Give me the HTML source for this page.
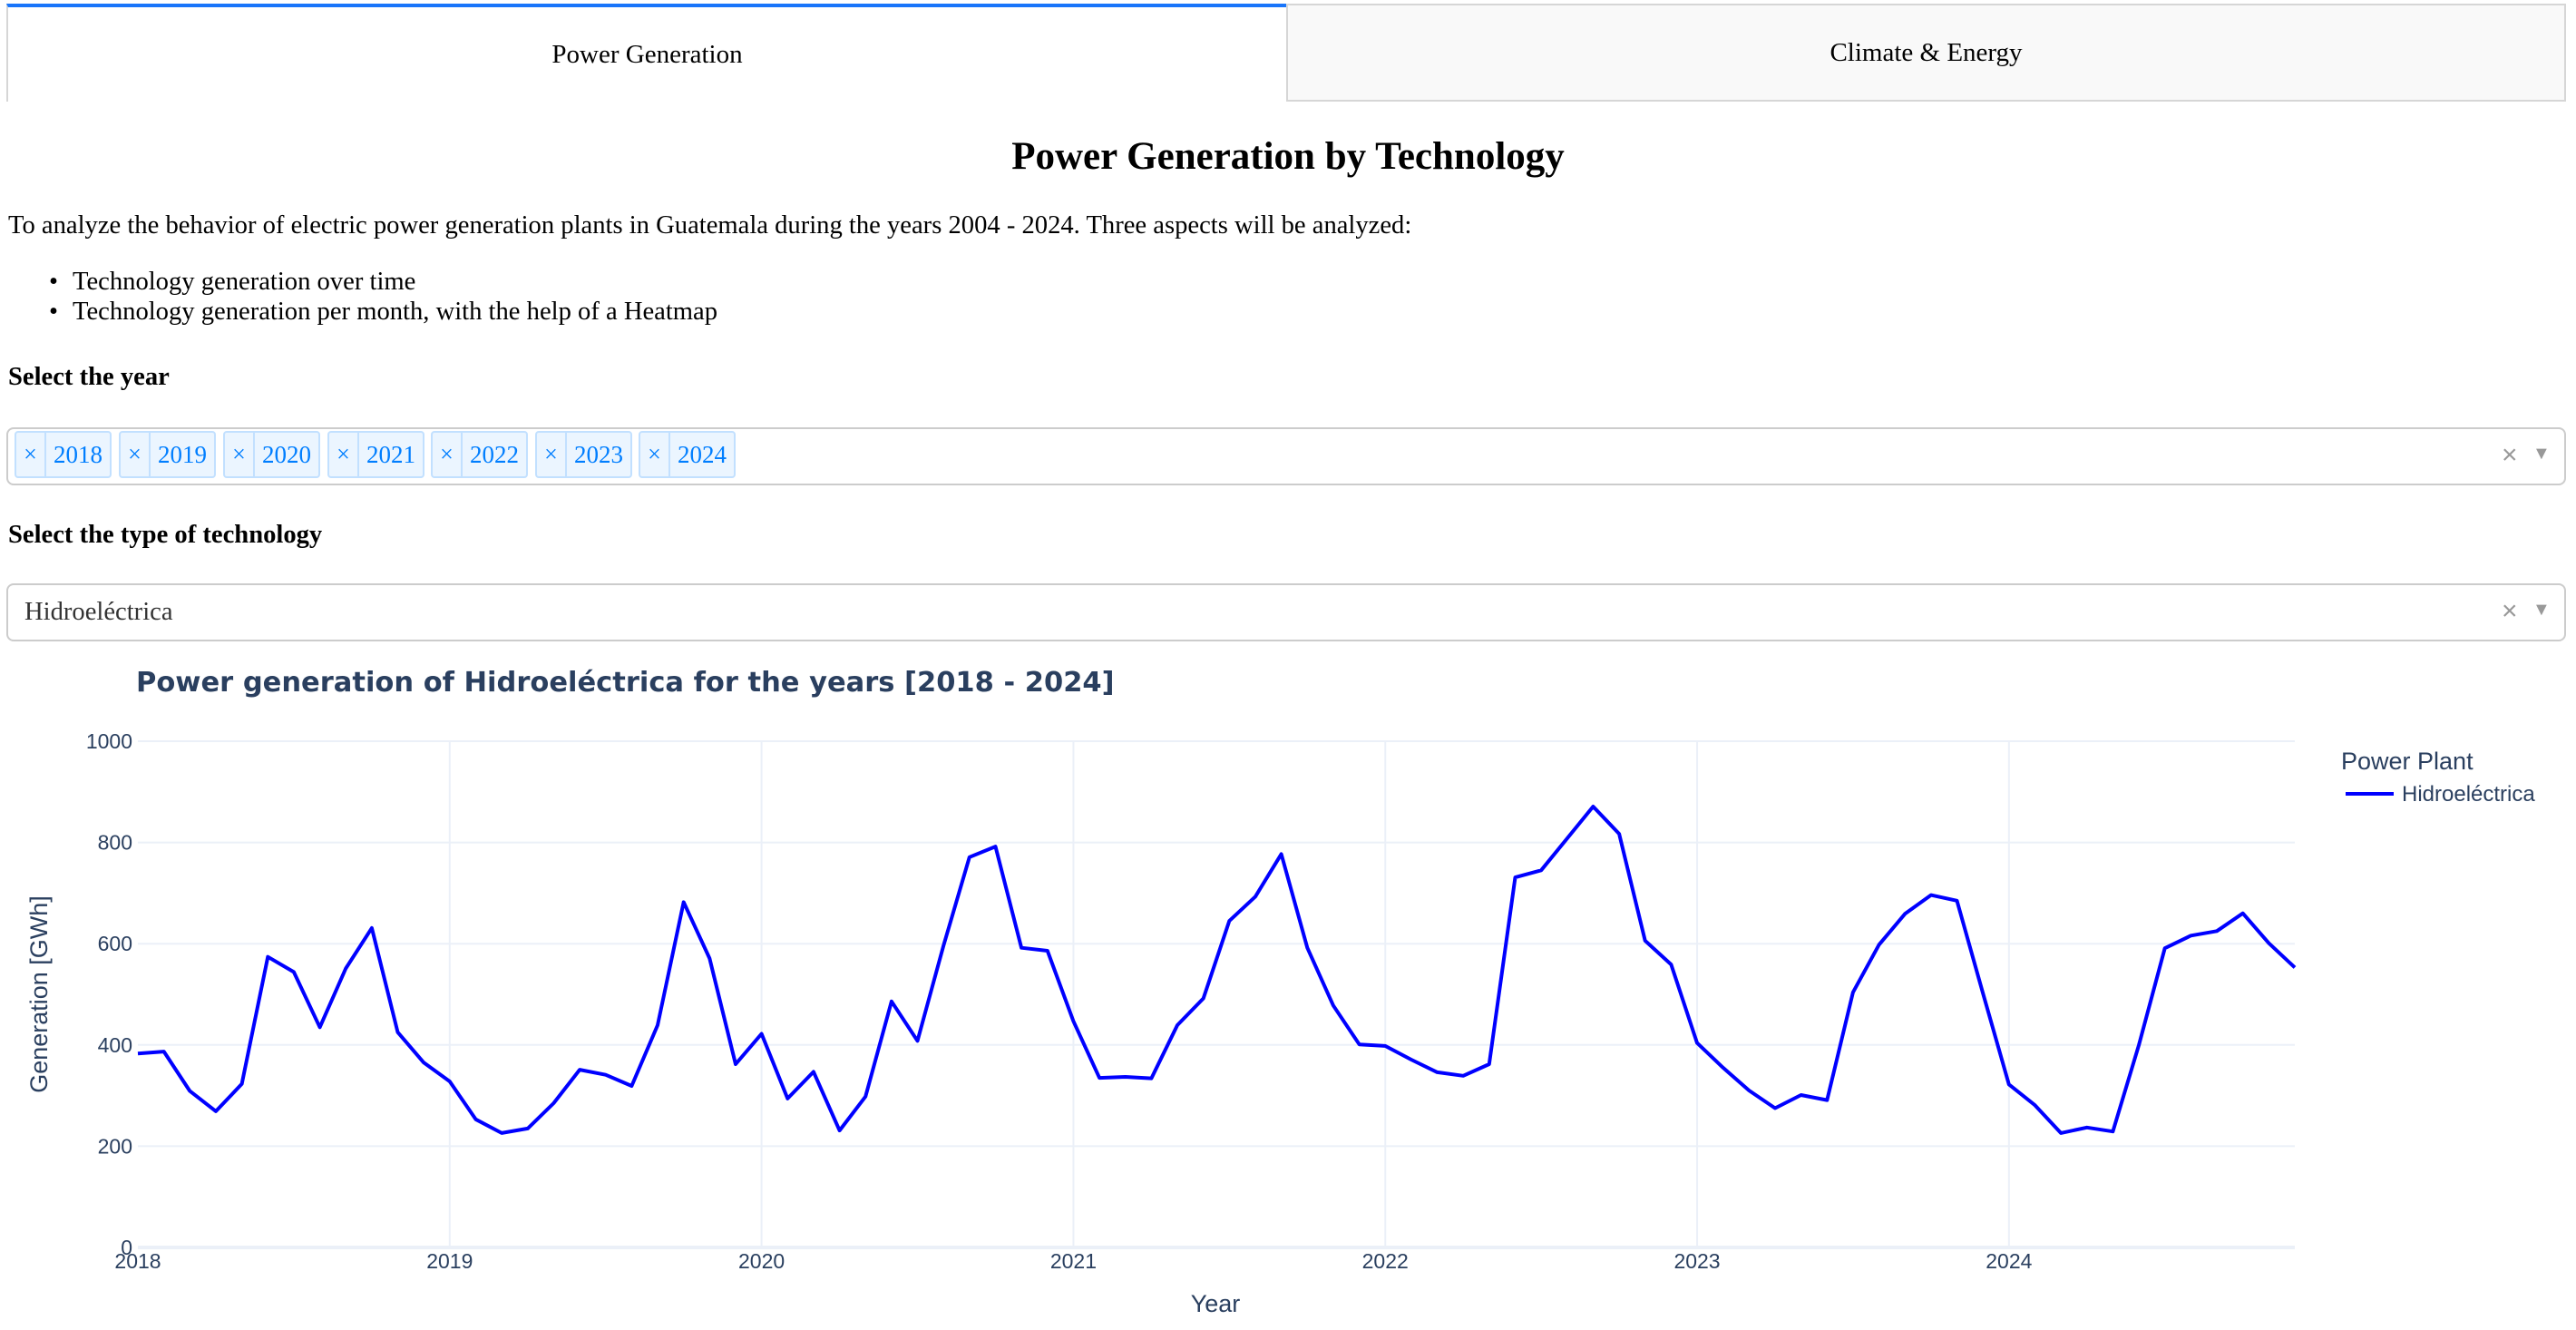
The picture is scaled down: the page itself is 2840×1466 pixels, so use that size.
<!DOCTYPE html>
<html><head><meta charset="utf-8">
<style>
body{margin:0;width:2840px;height:1466px;background:#fff;font-family:"Liberation Serif",serif;position:relative;overflow:hidden;color:#000}
.abs{position:absolute}
.tab{position:absolute;top:4px;height:108px;box-sizing:border-box;display:flex;align-items:center;justify-content:center;font-size:29px}
.chip{position:absolute;top:475px;height:52px;width:107px;box-sizing:border-box;background:#ebf5ff;border:2px solid #c2e0ff;border-radius:4px;color:#007eff;font-size:27px;display:flex;align-items:center}
.chip .x{width:31px;text-align:center;border-right:2px solid #c2e0ff;height:100%;display:flex;align-items:center;justify-content:center;font-size:26px}
.chip .v{flex:1;text-align:center}
.dd{position:absolute;left:7px;width:2822px;box-sizing:border-box;border:2px solid #ccc;border-radius:8px}
.ic{position:absolute;color:#999;font-size:30px;font-family:"Liberation Sans",sans-serif}
</style></head><body>
<div class="tab" style="left:7px;width:1411px;border-top:4px solid #1975fa;border-left:2px solid #d6d6d6;background:#fff">Power Generation</div>
<div class="tab" style="left:1418px;width:1411px;background:#f9f9f9;border:2px solid #d6d6d6">Climate &amp; Energy</div>

<div class="abs" style="left:0;width:2840px;top:148px;text-align:center;font-size:43px;font-weight:bold">Power Generation by Technology</div>
<div class="abs" style="left:9px;top:233px;font-size:28.6px">To analyze the behavior of electric power generation plants in Guatemala during the years 2004 - 2024. Three aspects will be analyzed:</div>
<div class="abs" style="left:80px;top:294px;font-size:28.6px;line-height:33px">
<div style="position:relative"><span style="position:absolute;left:-26px">•</span>Technology generation over time</div>
<div style="position:relative"><span style="position:absolute;left:-26px">•</span>Technology generation per month, with the help of a Heatmap</div>
</div>
<div class="abs" style="left:9px;top:400px;font-size:28.6px;font-weight:bold">Select the year</div>
<div class="dd" style="top:471px;height:64px"></div>
<div class="chip" style="left:16px"><span class="x">×</span><span class="v">2018</span></div>
<div class="chip" style="left:131px"><span class="x">×</span><span class="v">2019</span></div>
<div class="chip" style="left:246px"><span class="x">×</span><span class="v">2020</span></div>
<div class="chip" style="left:361px"><span class="x">×</span><span class="v">2021</span></div>
<div class="chip" style="left:475px"><span class="x">×</span><span class="v">2022</span></div>
<div class="chip" style="left:590px"><span class="x">×</span><span class="v">2023</span></div>
<div class="chip" style="left:704px"><span class="x">×</span><span class="v">2024</span></div>
<div class="ic" style="left:2758px;top:485px">×</div>
<div class="ic" style="left:2792px;top:489px;font-size:20px">▼</div>

<div class="abs" style="left:9px;top:574px;font-size:28.6px;font-weight:bold">Select the type of technology</div>
<div class="dd" style="top:643px;height:64px"></div>
<div class="abs" style="left:27px;top:659px;font-size:28.6px;color:#333">Hidroeléctrica</div>
<div class="ic" style="left:2758px;top:657px">×</div>
<div class="ic" style="left:2792px;top:661px;font-size:20px">▼</div>

<svg id="chart" class="abs" style="left:0;top:0" width="2840" height="1466"></svg>
<script>
const years = ["2018","2019","2020","2021","2022","2023","2024"];
const yTicks = [0,200,400,600,800,1000];
const values = [
383,387,309,269,323,574,544,435,551,631,425,365,
328,253,226,235,285,351,341,319,439,682,571,362,
422,294,347,231,298,486,408,596,771,792,592,586,
447,335,337,334,439,492,645,693,777,592,478,401,
398,371,346,339,362,731,745,808,871,817,606,559,
404,355,310,275,301,291,504,598,659,696,685,502,
322,281,226,237,229,400,591,616,625,660,601,553];
const seriesName = "Hidroeléctrica";

const NS="http://www.w3.org/2000/svg";
const svg=document.getElementById('chart');
const L=152,R=2530,T=817,B=1375;
const n=values.length;
const xS=i=>L+i*(R-L)/(n-1);
const yS=v=>B-(v/1000)*(B-T);
function mk(t,a,txt){const e=document.createElementNS(NS,t);for(const k in a)e.setAttribute(k,a[k]);if(txt!==undefined)e.textContent=txt;svg.appendChild(e);return e;}
const F='"Liberation Sans",sans-serif';
yTicks.forEach(v=>{
  const g=mk('line',{x1:L,x2:R,y1:yS(v),y2:yS(v),stroke:'#ebf0f8','stroke-width':v===0?4:2});
  
  
  const t=mk('text',{x:L-6,y:yS(v)+8,'text-anchor':'end','font-size':23,fill:'#2a3f5f','font-family':F},String(v));
  
  
});
years.forEach((y,k)=>{
  const x=xS(k*12);
  if(k>0){const g=mk('line',{x1:x,x2:x,y1:T,y2:B,stroke:'#ebf0f8','stroke-width':2});
  
  }
  const t=mk('text',{x:x,y:1398,'text-anchor':'middle','font-size':23,fill:'#2a3f5f','font-family':F},y);
  
  
});
const pts=values.map((v,i)=>xS(i).toFixed(1)+','+yS(v).toFixed(1)).join(' ');
const line=mk('polyline',{points:pts,fill:'none',stroke:'#0000ff','stroke-width':4,'stroke-linejoin':'round'});


let e;
e=mk('text',{x:150,y:762,'font-size':30.5,'font-weight':'bold',fill:'#2a3f5f','font-family':'"DejaVu Sans",sans-serif'},'Power generation of Hidroeléctrica for the years [2018 - 2024]');


e=mk('text',{x:1340,y:1446,'text-anchor':'middle','font-size':27,fill:'#2a3f5f','font-family':F},'Year');


e=mk('text',{x:52,y:1096,'text-anchor':'middle','font-size':27,fill:'#2a3f5f','font-family':F,transform:'rotate(-90 52 1096)'},'Generation [GWh]');


e=mk('text',{x:2581,y:848,'font-size':27,fill:'#2a3f5f','font-family':F},'Power Plant');


e=mk('line',{x1:2586,x2:2639,y1:875,y2:875,stroke:'#0000ff','stroke-width':4});


e=mk('text',{x:2648,y:883,'font-size':24,fill:'#2a3f5f','font-family':F},seriesName);


</script>
</body></html>
